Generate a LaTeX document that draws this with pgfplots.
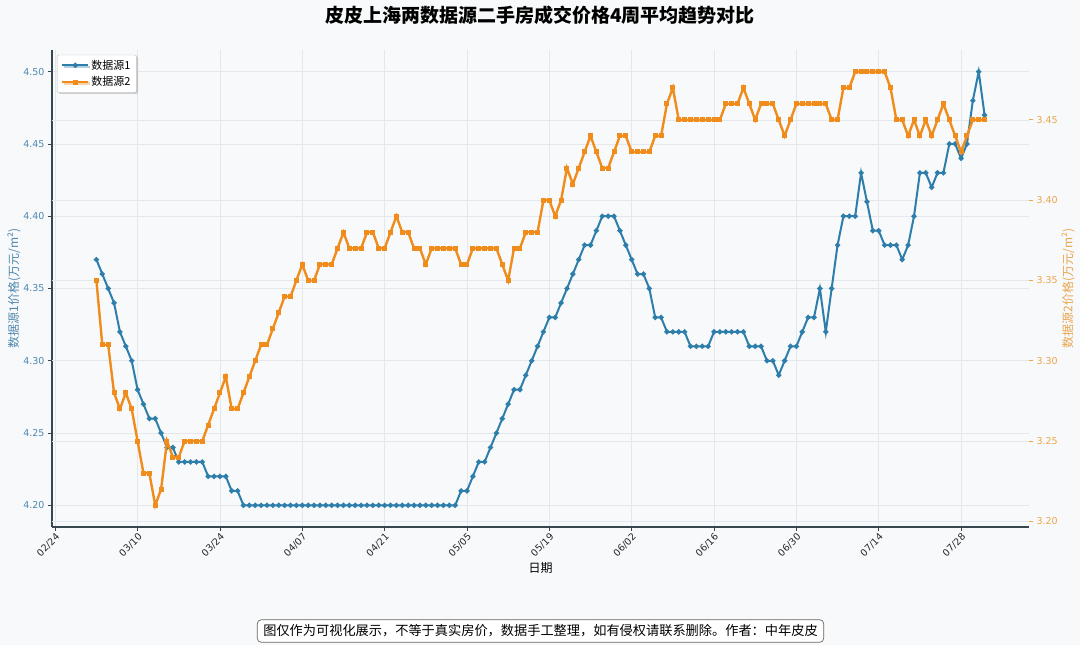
\documentclass[border=0pt]{standalone}
\usepackage{fontspec}
\setmainfont{DejaVu Sans}
\newfontfamily\cjk{Noto Sans CJK SC}
\usepackage{pgfplots}
\pgfplotsset{compat=1.18}
\usepackage{pgfplotstable}
\usetikzlibrary{shadows}
\definecolor{bg}{HTML}{F7F9FB}
\definecolor{c1}{HTML}{2E7EAB}
\definecolor{c2}{HTML}{F08C1C}
\definecolor{t1}{HTML}{4F88AE}
\definecolor{t2}{HTML}{EBA54D}
\definecolor{gridc}{HTML}{E4E8EC}
\definecolor{spine}{HTML}{37474F}

\pgfplotstableread{
d v
7 4.37
8 4.36
9 4.35
10 4.34
11 4.32
12 4.31
13 4.30
14 4.28
15 4.27
16 4.26
17 4.26
18 4.25
19 4.24
20 4.24
21 4.23
22 4.23
23 4.23
24 4.23
25 4.23
26 4.22
27 4.22
28 4.22
29 4.22
30 4.21
31 4.21
32 4.20
33 4.20
34 4.20
35 4.20
36 4.20
37 4.20
38 4.20
39 4.20
40 4.20
41 4.20
42 4.20
43 4.20
44 4.20
45 4.20
46 4.20
47 4.20
48 4.20
49 4.20
50 4.20
51 4.20
52 4.20
53 4.20
54 4.20
55 4.20
56 4.20
57 4.20
58 4.20
59 4.20
60 4.20
61 4.20
62 4.20
63 4.20
64 4.20
65 4.20
66 4.20
67 4.20
68 4.20
69 4.21
70 4.21
71 4.22
72 4.23
73 4.23
74 4.24
75 4.25
76 4.26
77 4.27
78 4.28
79 4.28
80 4.29
81 4.30
82 4.31
83 4.32
84 4.33
85 4.33
86 4.34
87 4.35
88 4.36
89 4.37
90 4.38
91 4.38
92 4.39
93 4.40
94 4.40
95 4.40
96 4.39
97 4.38
98 4.37
99 4.36
100 4.36
101 4.35
102 4.33
103 4.33
104 4.32
105 4.32
106 4.32
107 4.32
108 4.31
109 4.31
110 4.31
111 4.31
112 4.32
113 4.32
114 4.32
115 4.32
116 4.32
117 4.32
118 4.31
119 4.31
120 4.31
121 4.30
122 4.30
123 4.29
124 4.30
125 4.31
126 4.31
127 4.32
128 4.33
129 4.33
130 4.35
131 4.32
132 4.35
133 4.38
134 4.40
135 4.40
136 4.40
137 4.43
138 4.41
139 4.39
140 4.39
141 4.38
142 4.38
143 4.38
144 4.37
145 4.38
146 4.40
147 4.43
148 4.43
149 4.42
150 4.43
151 4.43
152 4.45
153 4.45
154 4.44
155 4.45
156 4.48
157 4.50
158 4.47
}\sone

\pgfplotstableread{
d v
7 3.35
8 3.31
9 3.31
10 3.28
11 3.27
12 3.28
13 3.27
14 3.25
15 3.23
16 3.23
17 3.21
18 3.22
19 3.25
20 3.24
21 3.24
22 3.25
23 3.25
24 3.25
25 3.25
26 3.26
27 3.27
28 3.28
29 3.29
30 3.27
31 3.27
32 3.28
33 3.29
34 3.30
35 3.31
36 3.31
37 3.32
38 3.33
39 3.34
40 3.34
41 3.35
42 3.36
43 3.35
44 3.35
45 3.36
46 3.36
47 3.36
48 3.37
49 3.38
50 3.37
51 3.37
52 3.37
53 3.38
54 3.38
55 3.37
56 3.37
57 3.38
58 3.39
59 3.38
60 3.38
61 3.37
62 3.37
63 3.36
64 3.37
65 3.37
66 3.37
67 3.37
68 3.37
69 3.36
70 3.36
71 3.37
72 3.37
73 3.37
74 3.37
75 3.37
76 3.36
77 3.35
78 3.37
79 3.37
80 3.38
81 3.38
82 3.38
83 3.40
84 3.40
85 3.39
86 3.40
87 3.42
88 3.41
89 3.42
90 3.43
91 3.44
92 3.43
93 3.42
94 3.42
95 3.43
96 3.44
97 3.44
98 3.43
99 3.43
100 3.43
101 3.43
102 3.44
103 3.44
104 3.46
105 3.47
106 3.45
107 3.45
108 3.45
109 3.45
110 3.45
111 3.45
112 3.45
113 3.45
114 3.46
115 3.46
116 3.46
117 3.47
118 3.46
119 3.45
120 3.46
121 3.46
122 3.46
123 3.45
124 3.44
125 3.45
126 3.46
127 3.46
128 3.46
129 3.46
130 3.46
131 3.46
132 3.45
133 3.45
134 3.47
135 3.47
136 3.48
137 3.48
138 3.48
139 3.48
140 3.48
141 3.48
142 3.47
143 3.45
144 3.45
145 3.44
146 3.45
147 3.44
148 3.45
149 3.44
150 3.45
151 3.46
152 3.45
153 3.44
154 3.43
155 3.44
156 3.45
157 3.45
158 3.45
}\stwo

\begin{document}
\begin{tikzpicture}
\fill[bg] (0,0) rectangle (1080pt,645pt);
\path[use as bounding box] (0,0) rectangle (1080pt,645pt);

\begin{axis}[
  at={(52pt,118pt)}, anchor=south west,
  scale only axis, width=977pt, height=477pt,
  xmin=-0.55, xmax=165.55, ymin=4.185, ymax=4.515,
  axis background/.style={fill=bg},
  axis x line*=bottom, axis y line*=left,
  axis line style={spine, line width=1.6pt},
  tick align=outside, major tick length=4pt,
  tick style={spine, line width=0.8pt},
  xtick={0,14,28,42,56,70,84,98,112,126,140,154},
  xticklabels={02/24,03/10,03/24,04/07,04/21,05/05,05/19,06/02,06/16,06/30,07/14,07/28},
  x tick label style={rotate=45, anchor=north east, font=\fontsize{9.5}{9.5}\selectfont, inner sep=1pt, text=black!85},
  ytick={4.20,4.25,4.30,4.35,4.40,4.45,4.50},
  y tick label style={font=\fontsize{9.5}{9.5}\selectfont, text=t1},
  /pgf/number format/.cd, fixed, fixed zerofill, precision=2, assume math mode=true,
  /pgfplots/.cd,
  xmajorgrids, ymajorgrids,
  grid style={gridc, line width=0.6pt},
  extra y ticks={4.18889,4.24444,4.3,4.35556,4.41111,4.46667},
  extra y tick labels={},
  extra y tick style={major tick length=0pt, grid=major},
  xlabel={\cjk 日期},
  xlabel style={font=\fontsize{12}{12}\selectfont, at={(axis description cs:0.5,-0.086)}, anchor=center},
  ylabel={\cjk 数据源1价格(万元/m²)},
  ylabel style={font=\fontsize{12}{12}\selectfont, text=t1, at={(axis description cs:-0.039,0.5)}, anchor=center, rotate=0},
]
\addplot[c1, line width=2pt, mark=*, mark size=1.5pt, mark options={c1}] table[x=d, y=v] {\sone};
\end{axis}

\begin{axis}[
  at={(52pt,118pt)}, anchor=south west,
  scale only axis, width=977pt, height=477pt,
  xmin=-0.55, xmax=165.55, ymin=3.1965, ymax=3.4935,
  axis line style={draw=none},
  xtick=\empty,
  ytick pos=right, yticklabel pos=right,
  tick align=outside, major tick length=4pt,
  tick style={t2, line width=0.8pt},
  ytick={3.20,3.25,3.30,3.35,3.40,3.45},
  y tick label style={font=\fontsize{9.5}{9.5}\selectfont, text=t2},
  /pgf/number format/.cd, fixed, fixed zerofill, precision=2, assume math mode=true,
  /pgfplots/.cd,
  ylabel={\cjk 数据源2价格(万元/m²)},
  ylabel style={font=\fontsize{12}{12}\selectfont, text=t2, at={(axis description cs:1.04,0.5)}, anchor=center, rotate=0},
  legend style={at={(0.005,0.99)}, anchor=north west, draw=black!25, fill=white, rounded corners=2pt,
    drop shadow={shadow xshift=1.5pt, shadow yshift=-1.5pt, opacity=0.35},
    font=\cjk\fontsize{11}{11}\selectfont, row sep=2pt, inner xsep=4pt, inner ysep=3pt},
  legend cell align=left,
  legend image code/.code={\draw[mark repeat=2,mark phase=2,#1] plot coordinates {(0pt,0pt)(13pt,0pt)(26pt,0pt)};},
]
\addlegendimage{c1, line width=2pt, mark=*, mark size=1.5pt, mark options={c1}}
\addlegendentry{数据源1}
\addplot[c2, line width=2.4pt, mark=square*, mark size=1.3pt, mark options={c2}] table[x=d, y=v] {\stwo};
\addlegendentry{数据源2}
\end{axis}

\node at (540pt,630pt) {\cjk\bfseries\fontsize{19}{19}\selectfont 皮皮上海两数据源二手房成交价格4周平均趋势对比};
\node[draw=black!60, rounded corners=4pt, fill=white, line width=0.7pt, inner xsep=6pt, inner ysep=5pt] at (540.5pt,14pt)
  {\cjk\fontsize{13.2}{13.2}\selectfont 图仅作为可视化展示，不等于真实房价，数据手工整理，如有侵权请联系删除。作者：中年皮皮};
\end{tikzpicture}
\end{document}
